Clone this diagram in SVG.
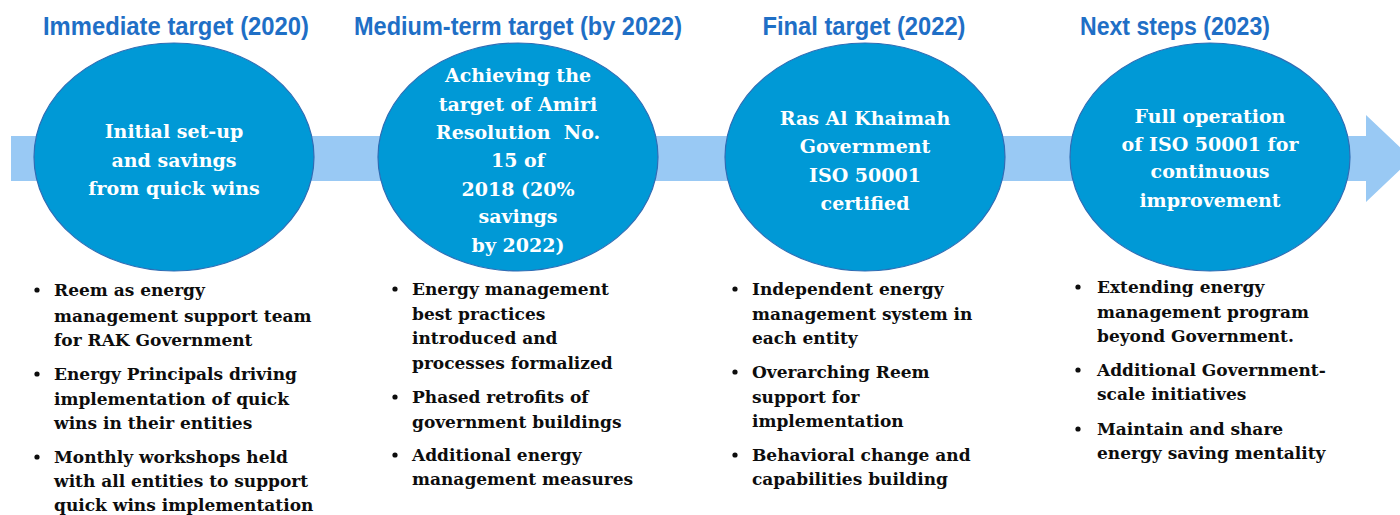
<svg xmlns="http://www.w3.org/2000/svg" width="1400" height="515" viewBox="0 0 1400 515">
  <style>
    .title { font-family: "Liberation Sans", Arial, sans-serif; font-weight: bold; font-size: 25px; fill: #1f6fc6; text-anchor: middle; }
    .stage { fill: #0099d6; stroke: #2f6db5; stroke-width: 1.2; }
    .stage-text { font-family: "DejaVu Serif", "Liberation Serif", serif; font-weight: bold; font-size: 19px; fill: #ffffff; text-anchor: middle; }
    .item { font-family: "DejaVu Serif", "Liberation Serif", serif; font-weight: bold; font-size: 17px; fill: #0d0d0d; }
    .dot { fill: #0d0d0d; }
  </style>

  <!-- timeline arrow running behind the stages -->
  <g id="connectors">
    <path d="M11,136 H1366 V115 L1412,158.5 L1366,202 V181 H11 Z" fill="#99c9f4"/>
  </g>

  <!-- stage 1 -->
  <g id="stage-immediate">
    <text class="title" x="176" y="35" textLength="266" lengthAdjust="spacingAndGlyphs">Immediate target (2020)</text>
    <ellipse class="stage" cx="174" cy="157" rx="140" ry="114"/>
    <text class="stage-text" x="174" y="138">Initial set-up</text>
    <text class="stage-text" x="174" y="167">and savings</text>
    <text class="stage-text" x="174" y="195">from quick wins</text>
    <circle class="dot" cx="37" cy="290" r="2.6"/>
    <text class="item" x="54" y="296">Reem as energy</text>
    <text class="item" x="54" y="322">management support team</text>
    <text class="item" x="54" y="346">for RAK Government</text>
    <circle class="dot" cx="37" cy="374" r="2.6"/>
    <text class="item" x="54" y="380">Energy Principals driving</text>
    <text class="item" x="54" y="405">implementation of quick</text>
    <text class="item" x="54" y="429">wins in their entities</text>
    <circle class="dot" cx="37" cy="457" r="2.6"/>
    <text class="item" x="54" y="463">Monthly workshops held</text>
    <text class="item" x="54" y="487">with all entities to support</text>
    <text class="item" x="54" y="511">quick wins implementation</text>
  </g>

  <!-- stage 2 -->
  <g id="stage-medium">
    <text class="title" x="518" y="35" textLength="328" lengthAdjust="spacingAndGlyphs">Medium-term target (by 2022)</text>
    <ellipse class="stage" cx="518" cy="157" rx="140" ry="114"/>
    <text class="stage-text" x="518" y="82">Achieving the</text>
    <text class="stage-text" x="518" y="111">target of Amiri</text>
    <text class="stage-text" x="518" y="139" xml:space="preserve">Resolution  No.</text>
    <text class="stage-text" x="518" y="167">15 of</text>
    <text class="stage-text" x="518" y="196">2018 (20%</text>
    <text class="stage-text" x="518" y="223">savings</text>
    <text class="stage-text" x="518" y="252">by 2022)</text>
    <circle class="dot" cx="395" cy="289" r="2.6"/>
    <text class="item" x="412" y="295">Energy management</text>
    <text class="item" x="412" y="320">best practices</text>
    <text class="item" x="412" y="344">introduced and</text>
    <text class="item" x="412" y="369">processes formalized</text>
    <circle class="dot" cx="395" cy="397" r="2.6"/>
    <text class="item" x="412" y="403">Phased retrofits of</text>
    <text class="item" x="412" y="428">government buildings</text>
    <circle class="dot" cx="395" cy="455" r="2.6"/>
    <text class="item" x="412" y="461">Additional energy</text>
    <text class="item" x="412" y="485">management measures</text>
  </g>

  <!-- stage 3 -->
  <g id="stage-final">
    <text class="title" x="864" y="35" textLength="203" lengthAdjust="spacingAndGlyphs">Final target (2022)</text>
    <ellipse class="stage" cx="865" cy="157" rx="140" ry="114"/>
    <text class="stage-text" x="865" y="125">Ras Al Khaimah</text>
    <text class="stage-text" x="865" y="153">Government</text>
    <text class="stage-text" x="865" y="182">ISO 50001</text>
    <text class="stage-text" x="865" y="210">certified</text>
    <circle class="dot" cx="735" cy="289" r="2.6"/>
    <text class="item" x="752" y="295">Independent energy</text>
    <text class="item" x="752" y="320">management system in</text>
    <text class="item" x="752" y="344">each entity</text>
    <circle class="dot" cx="735" cy="372" r="2.6"/>
    <text class="item" x="752" y="378">Overarching Reem</text>
    <text class="item" x="752" y="403">support for</text>
    <text class="item" x="752" y="427">implementation</text>
    <circle class="dot" cx="735" cy="455" r="2.6"/>
    <text class="item" x="752" y="461">Behavioral change and</text>
    <text class="item" x="752" y="485">capabilities building</text>
  </g>

  <!-- stage 4 -->
  <g id="stage-next">
    <text class="title" x="1175" y="35" textLength="190" lengthAdjust="spacingAndGlyphs">Next steps (2023)</text>
    <ellipse class="stage" cx="1210" cy="157" rx="140" ry="114"/>
    <text class="stage-text" x="1210" y="123">Full operation</text>
    <text class="stage-text" x="1210" y="151">of ISO 50001 for</text>
    <text class="stage-text" x="1210" y="178">continuous</text>
    <text class="stage-text" x="1210" y="207">improvement</text>
    <circle class="dot" cx="1078" cy="287" r="2.6"/>
    <text class="item" x="1097" y="293">Extending energy</text>
    <text class="item" x="1097" y="318">management program</text>
    <text class="item" x="1097" y="342">beyond Government.</text>
    <circle class="dot" cx="1078" cy="370" r="2.6"/>
    <text class="item" x="1097" y="376">Additional Government-</text>
    <text class="item" x="1097" y="400">scale initiatives</text>
    <circle class="dot" cx="1078" cy="429" r="2.6"/>
    <text class="item" x="1097" y="435">Maintain and share</text>
    <text class="item" x="1097" y="459">energy saving mentality</text>
  </g>
</svg>
